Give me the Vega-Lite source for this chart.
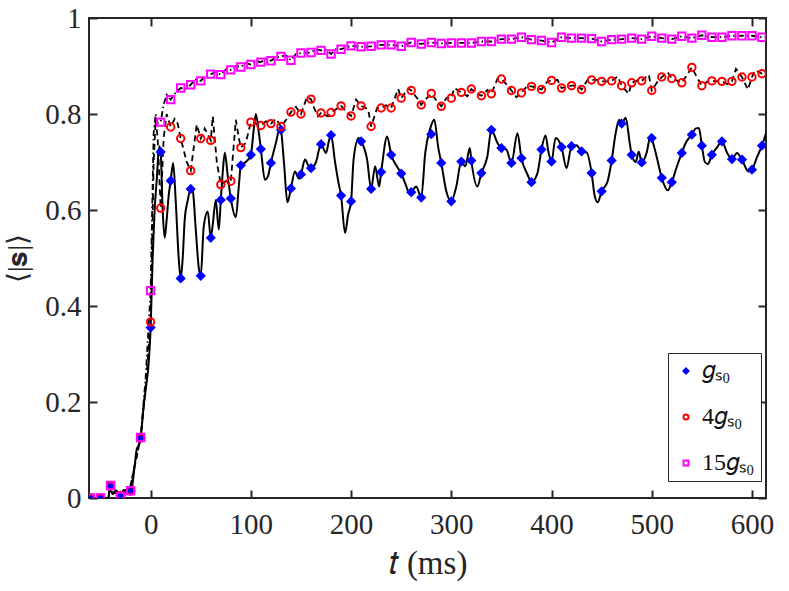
{
  "$schema": "https://vega.github.io/schema/vega-lite/v6.json",
  "width": 677,
  "height": 480,
  "autosize": "none",
  "padding": {"left": 89, "top": 18, "right": 23, "bottom": 93},
  "background": "white",
  "config": {
    "view": {"stroke": "#262626", "strokeWidth": 2},
    "font": "Liberation Serif",
    "axis": {
      "domain": false, "grid": false,
      "tickColor": "#262626", "tickWidth": 2, "tickSize": -8,
      "labelColor": "#262626", "titleFontWeight": "normal", "titleColor": "#262626"
    }
  },
  "datasets": {
    "lines": [
      {"series": "g_s0", "t": -61.5, "s": 0}, {"series": "g_s0", "t": -45, "s": 0}, {"series": "g_s0", "t": -42, "s": 0},
      {"series": "g_s0", "t": -41, "s": 0.022}, {"series": "g_s0", "t": -38, "s": 0.008}, {"series": "g_s0", "t": -35, "s": 0.016},
      {"series": "g_s0", "t": -33, "s": 0.013}, {"series": "g_s0", "t": -30, "s": 0.007}, {"series": "g_s0", "t": -27, "s": 0.016},
      {"series": "g_s0", "t": -24, "s": 0.01}, {"series": "g_s0", "t": -21, "s": 0.017}, {"series": "g_s0", "t": -19, "s": 0.02},
      {"series": "g_s0", "t": -16, "s": 0.066}, {"series": "g_s0", "t": -14, "s": 0.1}, {"series": "g_s0", "t": -12, "s": 0.11},
      {"series": "g_s0", "t": -10, "s": 0.125}, {"series": "g_s0", "t": -7, "s": 0.19}, {"series": "g_s0", "t": -5, "s": 0.225},
      {"series": "g_s0", "t": -2, "s": 0.28}, {"series": "g_s0", "t": 0, "s": 0.355}, {"series": "g_s0", "t": 2, "s": 0.5},
      {"series": "g_s0", "t": 4, "s": 0.6}, {"series": "g_s0", "t": 6, "s": 0.66}, {"series": "g_s0", "t": 8.6, "s": 0.733},
      {"series": "g_s0", "t": 10, "s": 0.721}, {"series": "g_s0", "t": 12, "s": 0.6}, {"series": "g_s0", "t": 14, "s": 0.542},
      {"series": "g_s0", "t": 16, "s": 0.58}, {"series": "g_s0", "t": 18, "s": 0.63}, {"series": "g_s0", "t": 20, "s": 0.661},
      {"series": "g_s0", "t": 22.5, "s": 0.698}, {"series": "g_s0", "t": 25, "s": 0.62}, {"series": "g_s0", "t": 28, "s": 0.5},
      {"series": "g_s0", "t": 30, "s": 0.4575}, {"series": "g_s0", "t": 32, "s": 0.5}, {"series": "g_s0", "t": 34, "s": 0.58},
      {"series": "g_s0", "t": 37, "s": 0.62}, {"series": "g_s0", "t": 40, "s": 0.644}, {"series": "g_s0", "t": 42, "s": 0.64},
      {"series": "g_s0", "t": 45, "s": 0.56}, {"series": "g_s0", "t": 48, "s": 0.48}, {"series": "g_s0", "t": 50, "s": 0.463},
      {"series": "g_s0", "t": 53, "s": 0.566}, {"series": "g_s0", "t": 57, "s": 0.597}, {"series": "g_s0", "t": 60, "s": 0.542},
      {"series": "g_s0", "t": 62, "s": 0.57}, {"series": "g_s0", "t": 65, "s": 0.621}, {"series": "g_s0", "t": 68, "s": 0.559},
      {"series": "g_s0", "t": 70, "s": 0.621}, {"series": "g_s0", "t": 72, "s": 0.68}, {"series": "g_s0", "t": 74, "s": 0.72},
      {"series": "g_s0", "t": 77, "s": 0.67}, {"series": "g_s0", "t": 80, "s": 0.624}, {"series": "g_s0", "t": 85, "s": 0.585},
      {"series": "g_s0", "t": 88, "s": 0.65}, {"series": "g_s0", "t": 90, "s": 0.693}, {"series": "g_s0", "t": 95, "s": 0.7},
      {"series": "g_s0", "t": 100, "s": 0.715}, {"series": "g_s0", "t": 103, "s": 0.77}, {"series": "g_s0", "t": 105, "s": 0.8},
      {"series": "g_s0", "t": 108, "s": 0.76}, {"series": "g_s0", "t": 110, "s": 0.727}, {"series": "g_s0", "t": 114, "s": 0.663},
      {"series": "g_s0", "t": 117, "s": 0.67}, {"series": "g_s0", "t": 120, "s": 0.698}, {"series": "g_s0", "t": 125, "s": 0.74},
      {"series": "g_s0", "t": 129, "s": 0.771}, {"series": "g_s0", "t": 130, "s": 0.767}, {"series": "g_s0", "t": 133, "s": 0.7},
      {"series": "g_s0", "t": 136.5, "s": 0.616}, {"series": "g_s0", "t": 140, "s": 0.645}, {"series": "g_s0", "t": 144, "s": 0.68},
      {"series": "g_s0", "t": 148, "s": 0.665}, {"series": "g_s0", "t": 150, "s": 0.674}, {"series": "g_s0", "t": 154, "s": 0.705},
      {"series": "g_s0", "t": 158, "s": 0.69}, {"series": "g_s0", "t": 160, "s": 0.687}, {"series": "g_s0", "t": 165, "s": 0.7},
      {"series": "g_s0", "t": 170, "s": 0.737}, {"series": "g_s0", "t": 175, "s": 0.719}, {"series": "g_s0", "t": 178, "s": 0.745},
      {"series": "g_s0", "t": 180, "s": 0.756}, {"series": "g_s0", "t": 184, "s": 0.7}, {"series": "g_s0", "t": 187.5, "s": 0.656},
      {"series": "g_s0", "t": 190, "s": 0.63}, {"series": "g_s0", "t": 194, "s": 0.552}, {"series": "g_s0", "t": 197, "s": 0.59},
      {"series": "g_s0", "t": 200, "s": 0.618}, {"series": "g_s0", "t": 202.5, "s": 0.705}, {"series": "g_s0", "t": 207.5, "s": 0.75},
      {"series": "g_s0", "t": 210, "s": 0.743}, {"series": "g_s0", "t": 216, "s": 0.705}, {"series": "g_s0", "t": 220, "s": 0.644},
      {"series": "g_s0", "t": 224, "s": 0.691}, {"series": "g_s0", "t": 228, "s": 0.649}, {"series": "g_s0", "t": 230, "s": 0.679},
      {"series": "g_s0", "t": 236, "s": 0.753}, {"series": "g_s0", "t": 240, "s": 0.715}, {"series": "g_s0", "t": 246, "s": 0.69},
      {"series": "g_s0", "t": 250, "s": 0.676}, {"series": "g_s0", "t": 255, "s": 0.65}, {"series": "g_s0", "t": 258, "s": 0.635},
      {"series": "g_s0", "t": 260, "s": 0.637}, {"series": "g_s0", "t": 265, "s": 0.649}, {"series": "g_s0", "t": 270, "s": 0.626},
      {"series": "g_s0", "t": 274, "s": 0.719}, {"series": "g_s0", "t": 279, "s": 0.77}, {"series": "g_s0", "t": 283, "s": 0.788},
      {"series": "g_s0", "t": 287, "s": 0.73}, {"series": "g_s0", "t": 290, "s": 0.698}, {"series": "g_s0", "t": 295, "s": 0.639},
      {"series": "g_s0", "t": 300, "s": 0.618}, {"series": "g_s0", "t": 305, "s": 0.649}, {"series": "g_s0", "t": 310, "s": 0.701},
      {"series": "g_s0", "t": 314, "s": 0.691}, {"series": "g_s0", "t": 318.5, "s": 0.729}, {"series": "g_s0", "t": 320, "s": 0.703},
      {"series": "g_s0", "t": 326, "s": 0.649}, {"series": "g_s0", "t": 330, "s": 0.677}, {"series": "g_s0", "t": 336, "s": 0.712},
      {"series": "g_s0", "t": 340, "s": 0.767}, {"series": "g_s0", "t": 346, "s": 0.74}, {"series": "g_s0", "t": 350, "s": 0.729},
      {"series": "g_s0", "t": 355, "s": 0.726}, {"series": "g_s0", "t": 360, "s": 0.698}, {"series": "g_s0", "t": 366, "s": 0.76},
      {"series": "g_s0", "t": 370, "s": 0.708}, {"series": "g_s0", "t": 376, "s": 0.674}, {"series": "g_s0", "t": 380, "s": 0.658},
      {"series": "g_s0", "t": 386, "s": 0.677}, {"series": "g_s0", "t": 390, "s": 0.726}, {"series": "g_s0", "t": 394, "s": 0.755},
      {"series": "g_s0", "t": 397, "s": 0.72}, {"series": "g_s0", "t": 400, "s": 0.701}, {"series": "g_s0", "t": 404, "s": 0.75},
      {"series": "g_s0", "t": 410, "s": 0.731}, {"series": "g_s0", "t": 415, "s": 0.687}, {"series": "g_s0", "t": 420, "s": 0.733},
      {"series": "g_s0", "t": 425, "s": 0.735}, {"series": "g_s0", "t": 430, "s": 0.722}, {"series": "g_s0", "t": 435, "s": 0.72},
      {"series": "g_s0", "t": 440, "s": 0.677}, {"series": "g_s0", "t": 443, "s": 0.63}, {"series": "g_s0", "t": 446, "s": 0.616},
      {"series": "g_s0", "t": 450, "s": 0.639}, {"series": "g_s0", "t": 456, "s": 0.66}, {"series": "g_s0", "t": 460, "s": 0.703},
      {"series": "g_s0", "t": 464, "s": 0.76}, {"series": "g_s0", "t": 467.5, "s": 0.788}, {"series": "g_s0", "t": 470, "s": 0.78},
      {"series": "g_s0", "t": 474, "s": 0.792}, {"series": "g_s0", "t": 478, "s": 0.74}, {"series": "g_s0", "t": 480, "s": 0.715},
      {"series": "g_s0", "t": 484, "s": 0.7}, {"series": "g_s0", "t": 487, "s": 0.722}, {"series": "g_s0", "t": 490, "s": 0.699},
      {"series": "g_s0", "t": 495, "s": 0.72}, {"series": "g_s0", "t": 499, "s": 0.757}, {"series": "g_s0", "t": 500, "s": 0.75},
      {"series": "g_s0", "t": 505, "s": 0.71}, {"series": "g_s0", "t": 510, "s": 0.667}, {"series": "g_s0", "t": 516, "s": 0.641},
      {"series": "g_s0", "t": 520, "s": 0.658}, {"series": "g_s0", "t": 525, "s": 0.69}, {"series": "g_s0", "t": 530, "s": 0.719},
      {"series": "g_s0", "t": 534, "s": 0.74}, {"series": "g_s0", "t": 540, "s": 0.757}, {"series": "g_s0", "t": 544, "s": 0.77},
      {"series": "g_s0", "t": 547, "s": 0.771}, {"series": "g_s0", "t": 550, "s": 0.734}, {"series": "g_s0", "t": 553, "s": 0.7},
      {"series": "g_s0", "t": 556, "s": 0.696}, {"series": "g_s0", "t": 560, "s": 0.715}, {"series": "g_s0", "t": 565, "s": 0.73},
      {"series": "g_s0", "t": 570, "s": 0.743}, {"series": "g_s0", "t": 575, "s": 0.72}, {"series": "g_s0", "t": 580, "s": 0.706},
      {"series": "g_s0", "t": 585, "s": 0.719}, {"series": "g_s0", "t": 590, "s": 0.705}, {"series": "g_s0", "t": 596.5, "s": 0.68},
      {"series": "g_s0", "t": 600, "s": 0.684}, {"series": "g_s0", "t": 605, "s": 0.71}, {"series": "g_s0", "t": 610, "s": 0.734},
      {"series": "g_s0", "t": 614, "s": 0.76},

      {"series": "4g_s0", "t": -61.5, "s": 0}, {"series": "4g_s0", "t": -42, "s": 0}, {"series": "4g_s0", "t": -41, "s": 0.022},
      {"series": "4g_s0", "t": -38, "s": 0.008}, {"series": "4g_s0", "t": -33, "s": 0.013}, {"series": "4g_s0", "t": -30, "s": 0.007},
      {"series": "4g_s0", "t": -27, "s": 0.016}, {"series": "4g_s0", "t": -21, "s": 0.017}, {"series": "4g_s0", "t": -16, "s": 0.066},
      {"series": "4g_s0", "t": -10, "s": 0.125}, {"series": "4g_s0", "t": -5, "s": 0.23}, {"series": "4g_s0", "t": 0, "s": 0.367},
      {"series": "4g_s0", "t": 3, "s": 0.7}, {"series": "4g_s0", "t": 5, "s": 0.788}, {"series": "4g_s0", "t": 7, "s": 0.75},
      {"series": "4g_s0", "t": 10, "s": 0.604}, {"series": "4g_s0", "t": 13, "s": 0.75}, {"series": "4g_s0", "t": 16, "s": 0.8},
      {"series": "4g_s0", "t": 20, "s": 0.773}, {"series": "4g_s0", "t": 24, "s": 0.79}, {"series": "4g_s0", "t": 27, "s": 0.78},
      {"series": "4g_s0", "t": 30, "s": 0.749}, {"series": "4g_s0", "t": 36, "s": 0.7}, {"series": "4g_s0", "t": 40, "s": 0.682},
      {"series": "4g_s0", "t": 43, "s": 0.73}, {"series": "4g_s0", "t": 46, "s": 0.778}, {"series": "4g_s0", "t": 50, "s": 0.749},
      {"series": "4g_s0", "t": 54, "s": 0.77}, {"series": "4g_s0", "t": 60, "s": 0.745}, {"series": "4g_s0", "t": 62, "s": 0.795},
      {"series": "4g_s0", "t": 66, "s": 0.7}, {"series": "4g_s0", "t": 70, "s": 0.653}, {"series": "4g_s0", "t": 75, "s": 0.66},
      {"series": "4g_s0", "t": 80, "s": 0.66}, {"series": "4g_s0", "t": 85, "s": 0.788}, {"series": "4g_s0", "t": 88, "s": 0.75},
      {"series": "4g_s0", "t": 90, "s": 0.73}, {"series": "4g_s0", "t": 95, "s": 0.74}, {"series": "4g_s0", "t": 100, "s": 0.783},
      {"series": "4g_s0", "t": 105, "s": 0.78}, {"series": "4g_s0", "t": 110, "s": 0.776}, {"series": "4g_s0", "t": 115, "s": 0.785},
      {"series": "4g_s0", "t": 120, "s": 0.78}, {"series": "4g_s0", "t": 125, "s": 0.79}, {"series": "4g_s0", "t": 130, "s": 0.774},
      {"series": "4g_s0", "t": 136, "s": 0.79}, {"series": "4g_s0", "t": 140, "s": 0.804}, {"series": "4g_s0", "t": 145, "s": 0.815},
      {"series": "4g_s0", "t": 150, "s": 0.8}, {"series": "4g_s0", "t": 156, "s": 0.835}, {"series": "4g_s0", "t": 160, "s": 0.831},
      {"series": "4g_s0", "t": 163, "s": 0.813}, {"series": "4g_s0", "t": 167, "s": 0.795}, {"series": "4g_s0", "t": 170, "s": 0.802},
      {"series": "4g_s0", "t": 177, "s": 0.795}, {"series": "4g_s0", "t": 180, "s": 0.803}, {"series": "4g_s0", "t": 185, "s": 0.81},
      {"series": "4g_s0", "t": 190, "s": 0.817}, {"series": "4g_s0", "t": 195, "s": 0.805}, {"series": "4g_s0", "t": 200, "s": 0.796},
      {"series": "4g_s0", "t": 205, "s": 0.83}, {"series": "4g_s0", "t": 210, "s": 0.817}, {"series": "4g_s0", "t": 217, "s": 0.81},
      {"series": "4g_s0", "t": 220, "s": 0.774}, {"series": "4g_s0", "t": 226, "s": 0.8125}, {"series": "4g_s0", "t": 230, "s": 0.8125},
      {"series": "4g_s0", "t": 235, "s": 0.818}, {"series": "4g_s0", "t": 240, "s": 0.8125}, {"series": "4g_s0", "t": 247, "s": 0.852},
      {"series": "4g_s0", "t": 250, "s": 0.833}, {"series": "4g_s0", "t": 257, "s": 0.853}, {"series": "4g_s0", "t": 260, "s": 0.849},
      {"series": "4g_s0", "t": 267, "s": 0.83}, {"series": "4g_s0", "t": 270, "s": 0.819}, {"series": "4g_s0", "t": 274, "s": 0.83},
      {"series": "4g_s0", "t": 280, "s": 0.842}, {"series": "4g_s0", "t": 286, "s": 0.826}, {"series": "4g_s0", "t": 290, "s": 0.816},
      {"series": "4g_s0", "t": 295, "s": 0.833}, {"series": "4g_s0", "t": 300, "s": 0.833}, {"series": "4g_s0", "t": 303, "s": 0.854},
      {"series": "4g_s0", "t": 310, "s": 0.845}, {"series": "4g_s0", "t": 316, "s": 0.837}, {"series": "4g_s0", "t": 320, "s": 0.852},
      {"series": "4g_s0", "t": 326, "s": 0.842}, {"series": "4g_s0", "t": 330, "s": 0.838}, {"series": "4g_s0", "t": 336, "s": 0.85},
      {"series": "4g_s0", "t": 340, "s": 0.842}, {"series": "4g_s0", "t": 346, "s": 0.873}, {"series": "4g_s0", "t": 350, "s": 0.873},
      {"series": "4g_s0", "t": 356, "s": 0.86}, {"series": "4g_s0", "t": 360, "s": 0.849}, {"series": "4g_s0", "t": 365, "s": 0.835},
      {"series": "4g_s0", "t": 370, "s": 0.844}, {"series": "4g_s0", "t": 376, "s": 0.859}, {"series": "4g_s0", "t": 380, "s": 0.8575},
      {"series": "4g_s0", "t": 386, "s": 0.854}, {"series": "4g_s0", "t": 390, "s": 0.851}, {"series": "4g_s0", "t": 396, "s": 0.868},
      {"series": "4g_s0", "t": 400, "s": 0.87}, {"series": "4g_s0", "t": 406, "s": 0.871}, {"series": "4g_s0", "t": 410, "s": 0.854},
      {"series": "4g_s0", "t": 416, "s": 0.857}, {"series": "4g_s0", "t": 420, "s": 0.859}, {"series": "4g_s0", "t": 426, "s": 0.859},
      {"series": "4g_s0", "t": 430, "s": 0.851}, {"series": "4g_s0", "t": 436, "s": 0.871}, {"series": "4g_s0", "t": 440, "s": 0.871},
      {"series": "4g_s0", "t": 446, "s": 0.871}, {"series": "4g_s0", "t": 450, "s": 0.868}, {"series": "4g_s0", "t": 456, "s": 0.868},
      {"series": "4g_s0", "t": 460, "s": 0.869}, {"series": "4g_s0", "t": 466, "s": 0.878}, {"series": "4g_s0", "t": 470, "s": 0.859},
      {"series": "4g_s0", "t": 477, "s": 0.842}, {"series": "4g_s0", "t": 480, "s": 0.865}, {"series": "4g_s0", "t": 487, "s": 0.871},
      {"series": "4g_s0", "t": 490, "s": 0.869}, {"series": "4g_s0", "t": 497, "s": 0.882}, {"series": "4g_s0", "t": 500, "s": 0.849},
      {"series": "4g_s0", "t": 506, "s": 0.868}, {"series": "4g_s0", "t": 510, "s": 0.877}, {"series": "4g_s0", "t": 516, "s": 0.887},
      {"series": "4g_s0", "t": 520, "s": 0.874}, {"series": "4g_s0", "t": 526, "s": 0.869}, {"series": "4g_s0", "t": 530, "s": 0.865},
      {"series": "4g_s0", "t": 536, "s": 0.884}, {"series": "4g_s0", "t": 540, "s": 0.897}, {"series": "4g_s0", "t": 546, "s": 0.873},
      {"series": "4g_s0", "t": 550, "s": 0.859}, {"series": "4g_s0", "t": 556, "s": 0.868}, {"series": "4g_s0", "t": 560, "s": 0.869},
      {"series": "4g_s0", "t": 566, "s": 0.868}, {"series": "4g_s0", "t": 570, "s": 0.868}, {"series": "4g_s0", "t": 576, "s": 0.862},
      {"series": "4g_s0", "t": 580, "s": 0.868}, {"series": "4g_s0", "t": 584, "s": 0.894}, {"series": "4g_s0", "t": 590, "s": 0.877},
      {"series": "4g_s0", "t": 596, "s": 0.851}, {"series": "4g_s0", "t": 600, "s": 0.877}, {"series": "4g_s0", "t": 603, "s": 0.891},
      {"series": "4g_s0", "t": 610, "s": 0.884}, {"series": "4g_s0", "t": 614, "s": 0.882},

      {"series": "15g_s0", "t": -61.5, "s": 0}, {"series": "15g_s0", "t": -42, "s": 0}, {"series": "15g_s0", "t": -41, "s": 0.024},
      {"series": "15g_s0", "t": -38, "s": 0.008}, {"series": "15g_s0", "t": -33, "s": 0.013}, {"series": "15g_s0", "t": -30, "s": 0.004},
      {"series": "15g_s0", "t": -27, "s": 0.016}, {"series": "15g_s0", "t": -21, "s": 0.016}, {"series": "15g_s0", "t": -16, "s": 0.066},
      {"series": "15g_s0", "t": -10, "s": 0.126}, {"series": "15g_s0", "t": -5, "s": 0.25}, {"series": "15g_s0", "t": 0, "s": 0.432},
      {"series": "15g_s0", "t": 2, "s": 0.65}, {"series": "15g_s0", "t": 3, "s": 0.76}, {"series": "15g_s0", "t": 5, "s": 0.8},
      {"series": "15g_s0", "t": 7, "s": 0.78}, {"series": "15g_s0", "t": 10, "s": 0.783}, {"series": "15g_s0", "t": 13, "s": 0.82},
      {"series": "15g_s0", "t": 16, "s": 0.84}, {"series": "15g_s0", "t": 20, "s": 0.83}, {"series": "15g_s0", "t": 25, "s": 0.845},
      {"series": "15g_s0", "t": 30, "s": 0.854}, {"series": "15g_s0", "t": 35, "s": 0.852}, {"series": "15g_s0", "t": 40, "s": 0.861},
      {"series": "15g_s0", "t": 45, "s": 0.872}, {"series": "15g_s0", "t": 50, "s": 0.869}, {"series": "15g_s0", "t": 55, "s": 0.88},
      {"series": "15g_s0", "t": 60, "s": 0.883}, {"series": "15g_s0", "t": 65, "s": 0.887}, {"series": "15g_s0", "t": 70, "s": 0.882},
      {"series": "15g_s0", "t": 75, "s": 0.893}, {"series": "15g_s0", "t": 80, "s": 0.892}, {"series": "15g_s0", "t": 85, "s": 0.9},
      {"series": "15g_s0", "t": 90, "s": 0.898}, {"series": "15g_s0", "t": 95, "s": 0.906}, {"series": "15g_s0", "t": 100, "s": 0.903},
      {"series": "15g_s0", "t": 105, "s": 0.91}, {"series": "15g_s0", "t": 110, "s": 0.908}, {"series": "15g_s0", "t": 115, "s": 0.915},
      {"series": "15g_s0", "t": 120, "s": 0.911}, {"series": "15g_s0", "t": 125, "s": 0.918}, {"series": "15g_s0", "t": 130, "s": 0.92},
      {"series": "15g_s0", "t": 135, "s": 0.922}, {"series": "15g_s0", "t": 140, "s": 0.912}, {"series": "15g_s0", "t": 145, "s": 0.925},
      {"series": "15g_s0", "t": 150, "s": 0.927}, {"series": "15g_s0", "t": 160, "s": 0.928}, {"series": "15g_s0", "t": 165, "s": 0.935},
      {"series": "15g_s0", "t": 170, "s": 0.9325}, {"series": "15g_s0", "t": 175, "s": 0.934}, {"series": "15g_s0", "t": 180, "s": 0.925},
      {"series": "15g_s0", "t": 185, "s": 0.935}, {"series": "15g_s0", "t": 190, "s": 0.935}, {"series": "15g_s0", "t": 200, "s": 0.942},
      {"series": "15g_s0", "t": 210, "s": 0.94}, {"series": "15g_s0", "t": 220, "s": 0.941}, {"series": "15g_s0", "t": 230, "s": 0.944},
      {"series": "15g_s0", "t": 240, "s": 0.944}, {"series": "15g_s0", "t": 250, "s": 0.941}, {"series": "15g_s0", "t": 260, "s": 0.949},
      {"series": "15g_s0", "t": 270, "s": 0.946}, {"series": "15g_s0", "t": 280, "s": 0.949}, {"series": "15g_s0", "t": 290, "s": 0.947},
      {"series": "15g_s0", "t": 300, "s": 0.948}, {"series": "15g_s0", "t": 310, "s": 0.948}, {"series": "15g_s0", "t": 320, "s": 0.948},
      {"series": "15g_s0", "t": 330, "s": 0.951}, {"series": "15g_s0", "t": 340, "s": 0.951}, {"series": "15g_s0", "t": 350, "s": 0.956},
      {"series": "15g_s0", "t": 360, "s": 0.956}, {"series": "15g_s0", "t": 370, "s": 0.96}, {"series": "15g_s0", "t": 380, "s": 0.955},
      {"series": "15g_s0", "t": 390, "s": 0.953}, {"series": "15g_s0", "t": 400, "s": 0.949}, {"series": "15g_s0", "t": 410, "s": 0.96},
      {"series": "15g_s0", "t": 420, "s": 0.958}, {"series": "15g_s0", "t": 430, "s": 0.958}, {"series": "15g_s0", "t": 440, "s": 0.957},
      {"series": "15g_s0", "t": 450, "s": 0.951}, {"series": "15g_s0", "t": 460, "s": 0.955}, {"series": "15g_s0", "t": 470, "s": 0.956},
      {"series": "15g_s0", "t": 480, "s": 0.958}, {"series": "15g_s0", "t": 490, "s": 0.956}, {"series": "15g_s0", "t": 500, "s": 0.962},
      {"series": "15g_s0", "t": 510, "s": 0.958}, {"series": "15g_s0", "t": 520, "s": 0.956}, {"series": "15g_s0", "t": 530, "s": 0.962},
      {"series": "15g_s0", "t": 540, "s": 0.958}, {"series": "15g_s0", "t": 550, "s": 0.964}, {"series": "15g_s0", "t": 560, "s": 0.96},
      {"series": "15g_s0", "t": 570, "s": 0.96}, {"series": "15g_s0", "t": 580, "s": 0.963}, {"series": "15g_s0", "t": 590, "s": 0.963},
      {"series": "15g_s0", "t": 600, "s": 0.963}, {"series": "15g_s0", "t": 610, "s": 0.96}, {"series": "15g_s0", "t": 614, "s": 0.961}
    ],
    "markers": [
      {"series": "g_s0", "t": -60, "s": 0}, {"series": "g_s0", "t": -50, "s": 0}, {"series": "g_s0", "t": -40, "s": 0.025},
      {"series": "g_s0", "t": -30, "s": 0.005}, {"series": "g_s0", "t": -20, "s": 0.015}, {"series": "g_s0", "t": -10, "s": 0.125},
      {"series": "g_s0", "t": 0, "s": 0.355}, {"series": "g_s0", "t": 10, "s": 0.721}, {"series": "g_s0", "t": 20, "s": 0.661},
      {"series": "g_s0", "t": 30, "s": 0.4575}, {"series": "g_s0", "t": 40, "s": 0.644}, {"series": "g_s0", "t": 50, "s": 0.463},
      {"series": "g_s0", "t": 60, "s": 0.542}, {"series": "g_s0", "t": 70, "s": 0.621}, {"series": "g_s0", "t": 80, "s": 0.624},
      {"series": "g_s0", "t": 90, "s": 0.693}, {"series": "g_s0", "t": 100, "s": 0.715}, {"series": "g_s0", "t": 110, "s": 0.727},
      {"series": "g_s0", "t": 120, "s": 0.698}, {"series": "g_s0", "t": 130, "s": 0.767}, {"series": "g_s0", "t": 140, "s": 0.645},
      {"series": "g_s0", "t": 150, "s": 0.674}, {"series": "g_s0", "t": 160, "s": 0.687}, {"series": "g_s0", "t": 170, "s": 0.737},
      {"series": "g_s0", "t": 180, "s": 0.756}, {"series": "g_s0", "t": 190, "s": 0.63}, {"series": "g_s0", "t": 200, "s": 0.618},
      {"series": "g_s0", "t": 210, "s": 0.743}, {"series": "g_s0", "t": 220, "s": 0.644}, {"series": "g_s0", "t": 230, "s": 0.679},
      {"series": "g_s0", "t": 240, "s": 0.715}, {"series": "g_s0", "t": 250, "s": 0.676}, {"series": "g_s0", "t": 260, "s": 0.637},
      {"series": "g_s0", "t": 270, "s": 0.626}, {"series": "g_s0", "t": 280, "s": 0.758}, {"series": "g_s0", "t": 290, "s": 0.698},
      {"series": "g_s0", "t": 300, "s": 0.618}, {"series": "g_s0", "t": 310, "s": 0.701}, {"series": "g_s0", "t": 320, "s": 0.703},
      {"series": "g_s0", "t": 330, "s": 0.677}, {"series": "g_s0", "t": 340, "s": 0.767}, {"series": "g_s0", "t": 350, "s": 0.729},
      {"series": "g_s0", "t": 360, "s": 0.698}, {"series": "g_s0", "t": 370, "s": 0.708}, {"series": "g_s0", "t": 380, "s": 0.658},
      {"series": "g_s0", "t": 390, "s": 0.726}, {"series": "g_s0", "t": 400, "s": 0.701}, {"series": "g_s0", "t": 410, "s": 0.731},
      {"series": "g_s0", "t": 420, "s": 0.733}, {"series": "g_s0", "t": 430, "s": 0.722}, {"series": "g_s0", "t": 440, "s": 0.677},
      {"series": "g_s0", "t": 450, "s": 0.639}, {"series": "g_s0", "t": 460, "s": 0.703}, {"series": "g_s0", "t": 470, "s": 0.78},
      {"series": "g_s0", "t": 480, "s": 0.715}, {"series": "g_s0", "t": 490, "s": 0.699}, {"series": "g_s0", "t": 500, "s": 0.75},
      {"series": "g_s0", "t": 510, "s": 0.667}, {"series": "g_s0", "t": 520, "s": 0.658}, {"series": "g_s0", "t": 530, "s": 0.719},
      {"series": "g_s0", "t": 540, "s": 0.757}, {"series": "g_s0", "t": 550, "s": 0.734}, {"series": "g_s0", "t": 560, "s": 0.715},
      {"series": "g_s0", "t": 570, "s": 0.743}, {"series": "g_s0", "t": 580, "s": 0.706}, {"series": "g_s0", "t": 590, "s": 0.705},
      {"series": "g_s0", "t": 600, "s": 0.684}, {"series": "g_s0", "t": 610, "s": 0.734},

      {"series": "4g_s0", "t": -60, "s": 0}, {"series": "4g_s0", "t": -50, "s": 0}, {"series": "4g_s0", "t": -40, "s": 0.025},
      {"series": "4g_s0", "t": -30, "s": 0.005}, {"series": "4g_s0", "t": -20, "s": 0.015}, {"series": "4g_s0", "t": -10, "s": 0.125},
      {"series": "4g_s0", "t": 0, "s": 0.367}, {"series": "4g_s0", "t": 10, "s": 0.604}, {"series": "4g_s0", "t": 20, "s": 0.773},
      {"series": "4g_s0", "t": 30, "s": 0.749}, {"series": "4g_s0", "t": 40, "s": 0.682}, {"series": "4g_s0", "t": 50, "s": 0.749},
      {"series": "4g_s0", "t": 60, "s": 0.745}, {"series": "4g_s0", "t": 70, "s": 0.653}, {"series": "4g_s0", "t": 80, "s": 0.66},
      {"series": "4g_s0", "t": 90, "s": 0.73}, {"series": "4g_s0", "t": 100, "s": 0.783}, {"series": "4g_s0", "t": 110, "s": 0.776},
      {"series": "4g_s0", "t": 120, "s": 0.78}, {"series": "4g_s0", "t": 130, "s": 0.774}, {"series": "4g_s0", "t": 140, "s": 0.804},
      {"series": "4g_s0", "t": 150, "s": 0.8}, {"series": "4g_s0", "t": 160, "s": 0.831}, {"series": "4g_s0", "t": 170, "s": 0.802},
      {"series": "4g_s0", "t": 180, "s": 0.803}, {"series": "4g_s0", "t": 190, "s": 0.817}, {"series": "4g_s0", "t": 200, "s": 0.796},
      {"series": "4g_s0", "t": 210, "s": 0.817}, {"series": "4g_s0", "t": 220, "s": 0.774}, {"series": "4g_s0", "t": 230, "s": 0.8125},
      {"series": "4g_s0", "t": 240, "s": 0.8125}, {"series": "4g_s0", "t": 250, "s": 0.833}, {"series": "4g_s0", "t": 260, "s": 0.849},
      {"series": "4g_s0", "t": 270, "s": 0.819}, {"series": "4g_s0", "t": 280, "s": 0.843}, {"series": "4g_s0", "t": 290, "s": 0.816},
      {"series": "4g_s0", "t": 300, "s": 0.833}, {"series": "4g_s0", "t": 310, "s": 0.845}, {"series": "4g_s0", "t": 320, "s": 0.852},
      {"series": "4g_s0", "t": 330, "s": 0.838}, {"series": "4g_s0", "t": 340, "s": 0.842}, {"series": "4g_s0", "t": 350, "s": 0.873},
      {"series": "4g_s0", "t": 360, "s": 0.849}, {"series": "4g_s0", "t": 370, "s": 0.844}, {"series": "4g_s0", "t": 380, "s": 0.8575},
      {"series": "4g_s0", "t": 390, "s": 0.851}, {"series": "4g_s0", "t": 400, "s": 0.87}, {"series": "4g_s0", "t": 410, "s": 0.854},
      {"series": "4g_s0", "t": 420, "s": 0.859}, {"series": "4g_s0", "t": 430, "s": 0.851}, {"series": "4g_s0", "t": 440, "s": 0.871},
      {"series": "4g_s0", "t": 450, "s": 0.868}, {"series": "4g_s0", "t": 460, "s": 0.869}, {"series": "4g_s0", "t": 470, "s": 0.859},
      {"series": "4g_s0", "t": 480, "s": 0.865}, {"series": "4g_s0", "t": 490, "s": 0.869}, {"series": "4g_s0", "t": 500, "s": 0.849},
      {"series": "4g_s0", "t": 510, "s": 0.877}, {"series": "4g_s0", "t": 520, "s": 0.874}, {"series": "4g_s0", "t": 530, "s": 0.865},
      {"series": "4g_s0", "t": 540, "s": 0.897}, {"series": "4g_s0", "t": 550, "s": 0.859}, {"series": "4g_s0", "t": 560, "s": 0.869},
      {"series": "4g_s0", "t": 570, "s": 0.868}, {"series": "4g_s0", "t": 580, "s": 0.868}, {"series": "4g_s0", "t": 590, "s": 0.877},
      {"series": "4g_s0", "t": 600, "s": 0.877}, {"series": "4g_s0", "t": 610, "s": 0.884},

      {"series": "15g_s0", "t": -60, "s": 0}, {"series": "15g_s0", "t": -50, "s": 0}, {"series": "15g_s0", "t": -40, "s": 0.026},
      {"series": "15g_s0", "t": -30, "s": 0.003}, {"series": "15g_s0", "t": -20, "s": 0.015}, {"series": "15g_s0", "t": -10, "s": 0.126},
      {"series": "15g_s0", "t": 0, "s": 0.432}, {"series": "15g_s0", "t": 10, "s": 0.783}, {"series": "15g_s0", "t": 20, "s": 0.83},
      {"series": "15g_s0", "t": 30, "s": 0.854}, {"series": "15g_s0", "t": 40, "s": 0.861}, {"series": "15g_s0", "t": 50, "s": 0.869},
      {"series": "15g_s0", "t": 60, "s": 0.883}, {"series": "15g_s0", "t": 70, "s": 0.882}, {"series": "15g_s0", "t": 80, "s": 0.892},
      {"series": "15g_s0", "t": 90, "s": 0.898}, {"series": "15g_s0", "t": 100, "s": 0.903}, {"series": "15g_s0", "t": 110, "s": 0.908},
      {"series": "15g_s0", "t": 120, "s": 0.911}, {"series": "15g_s0", "t": 130, "s": 0.92}, {"series": "15g_s0", "t": 140, "s": 0.912},
      {"series": "15g_s0", "t": 150, "s": 0.927}, {"series": "15g_s0", "t": 160, "s": 0.928}, {"series": "15g_s0", "t": 170, "s": 0.9325},
      {"series": "15g_s0", "t": 180, "s": 0.925}, {"series": "15g_s0", "t": 190, "s": 0.935}, {"series": "15g_s0", "t": 200, "s": 0.942},
      {"series": "15g_s0", "t": 210, "s": 0.94}, {"series": "15g_s0", "t": 220, "s": 0.941}, {"series": "15g_s0", "t": 230, "s": 0.944},
      {"series": "15g_s0", "t": 240, "s": 0.944}, {"series": "15g_s0", "t": 250, "s": 0.941}, {"series": "15g_s0", "t": 260, "s": 0.949},
      {"series": "15g_s0", "t": 270, "s": 0.946}, {"series": "15g_s0", "t": 280, "s": 0.949}, {"series": "15g_s0", "t": 290, "s": 0.947},
      {"series": "15g_s0", "t": 300, "s": 0.948}, {"series": "15g_s0", "t": 310, "s": 0.948}, {"series": "15g_s0", "t": 320, "s": 0.948},
      {"series": "15g_s0", "t": 330, "s": 0.951}, {"series": "15g_s0", "t": 340, "s": 0.951}, {"series": "15g_s0", "t": 350, "s": 0.956},
      {"series": "15g_s0", "t": 360, "s": 0.956}, {"series": "15g_s0", "t": 370, "s": 0.96}, {"series": "15g_s0", "t": 380, "s": 0.955},
      {"series": "15g_s0", "t": 390, "s": 0.953}, {"series": "15g_s0", "t": 400, "s": 0.949}, {"series": "15g_s0", "t": 410, "s": 0.96},
      {"series": "15g_s0", "t": 420, "s": 0.958}, {"series": "15g_s0", "t": 430, "s": 0.958}, {"series": "15g_s0", "t": 440, "s": 0.957},
      {"series": "15g_s0", "t": 450, "s": 0.951}, {"series": "15g_s0", "t": 460, "s": 0.955}, {"series": "15g_s0", "t": 470, "s": 0.956},
      {"series": "15g_s0", "t": 480, "s": 0.958}, {"series": "15g_s0", "t": 490, "s": 0.956}, {"series": "15g_s0", "t": 500, "s": 0.962},
      {"series": "15g_s0", "t": 510, "s": 0.958}, {"series": "15g_s0", "t": 520, "s": 0.956}, {"series": "15g_s0", "t": 530, "s": 0.962},
      {"series": "15g_s0", "t": 540, "s": 0.958}, {"series": "15g_s0", "t": 550, "s": 0.964}, {"series": "15g_s0", "t": 560, "s": 0.96},
      {"series": "15g_s0", "t": 570, "s": 0.96}, {"series": "15g_s0", "t": 580, "s": 0.963}, {"series": "15g_s0", "t": 590, "s": 0.963},
      {"series": "15g_s0", "t": 600, "s": 0.963}, {"series": "15g_s0", "t": 610, "s": 0.96}
    ]
  },
  "layer": [
    {
      "data": {"name": "lines"},
      "transform": [{"filter": "datum.series == 'g_s0'"}],
      "mark": {"type": "line", "color": "black", "strokeWidth": 2, "interpolate": "monotone", "clip": true},
      "encoding": {
        "x": {"field": "t", "type": "quantitative", "scale": {"domain": [-61.5, 614], "nice": false, "zero": false},
              "axis": {"orient": "bottom", "values": [0, 100, 200, 300, 400, 500, 600], "title": "𝑡 (ms)",
                       "labelFont": "Liberation Serif", "labelFontSize": 29, "titleFont": "Liberation Serif", "titleFontSize": 33,
                       "labelPadding": 20, "titlePadding": 8}},
        "y": {"field": "s", "type": "quantitative", "scale": {"domain": [0, 1], "nice": false},
              "axis": {"orient": "left", "values": [0, 0.2, 0.4, 0.6, 0.8, 1], "format": "~g", "title": "⟨|𝐬|⟩",
                       "labelFont": "Liberation Serif", "labelFontSize": 29, "titleFont": "Liberation Serif", "titleFontSize": 28,
                       "labelPadding": 16, "titlePadding": 12}}
      }
    },
    {
      "data": {"name": "lines"},
      "transform": [{"filter": "datum.series == '4g_s0'"}],
      "mark": {"type": "line", "color": "black", "strokeWidth": 1.8, "strokeDash": [6, 4], "clip": true},
      "encoding": {
        "x": {"field": "t", "type": "quantitative", "axis": null},
        "y": {"field": "s", "type": "quantitative", "axis": null}
      }
    },
    {
      "data": {"name": "lines"},
      "transform": [{"filter": "datum.series == '15g_s0'"}],
      "mark": {"type": "line", "color": "black", "strokeWidth": 1.8, "strokeDash": [6, 3, 1.5, 3], "clip": true},
      "encoding": {
        "x": {"field": "t", "type": "quantitative", "axis": null},
        "y": {"field": "s", "type": "quantitative", "axis": null}
      }
    },
    {
      "data": {"name": "markers"},
      "mark": {"type": "point", "strokeWidth": 2, "size": 55, "opacity": 1, "clip": true},
      "encoding": {
        "x": {"field": "t", "type": "quantitative", "axis": {"orient": "top", "values": [0, 100, 200, 300, 400, 500, 600], "labels": false, "title": null}},
        "y": {"field": "s", "type": "quantitative", "axis": {"orient": "right", "values": [0, 0.2, 0.4, 0.6, 0.8, 1], "labels": false, "title": null}},
        "shape": {"field": "series", "type": "nominal", "title": null,
                  "scale": {"domain": ["g_s0", "4g_s0", "15g_s0"], "range": ["diamond", "circle", "square"]}},
        "stroke": {"field": "series", "type": "nominal", "title": null,
                   "scale": {"domain": ["g_s0", "4g_s0", "15g_s0"], "range": ["#0000ff", "#ff0000", "#ff00ff"]}},
        "fill": {"field": "series", "type": "nominal", "title": null,
                 "scale": {"domain": ["g_s0", "4g_s0", "15g_s0"], "range": ["#0000ff", "transparent", "transparent"]},
                 "legend": {"orient": "none", "legendX": 579, "legendY": 335, "strokeColor": "#262626", "fillColor": "white",
                            "padding": 6, "rowPadding": 22, "symbolSize": 25, "symbolStrokeWidth": 2, "labelOffset": 4,
                            "labelFont": "Liberation Serif", "labelFontSize": 24, "labelColor": "#111",
                            "labelExpr": "replace(replace(datum.label, 'g', '𝑔'), '_s0', 'ₛ₀')"}}
      }
    }
  ],
  "resolve": {"axis": {"x": "independent", "y": "independent"}}
}
